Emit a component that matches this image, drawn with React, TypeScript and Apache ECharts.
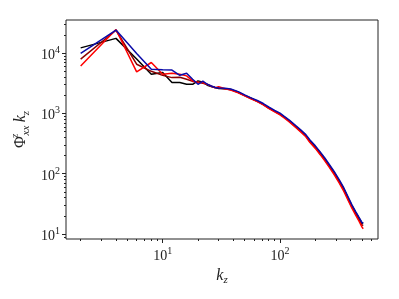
import React, { useEffect, useRef } from "react";
import * as echarts from "echarts";

// wavenumbers k_z
const K = [2, 4, 6, 8, 10, 12, 14, 16, 18, 20, 22, 24, 26, 28, 30, 34, 38, 44, 50, 56, 64, 72, 80, 90, 100, 110, 120, 136, 150, 166, 180, 200, 220, 240, 264, 290, 320, 350, 380, 410, 440, 470, 500, 512];

const blackSeries = [12250, 17600, 8000, 4470, 4770, 3250, 3250, 3040, 3040, 3470, 3300, 2940, 2800, 2690, 2600, 2580, 2500, 2250, 1990, 1800, 1600, 1420, 1240, 1090, 975, 860, 755, 610, 520, 430, 348, 280, 222, 178, 136, 104, 76, 56, 40, 29.5, 23, 18.5, 15.2, 15.0];
const darkRedSeries = [7940, 24000, 6560, 5000, 4280, 3930, 3990, 3690, 3400, 3300, 3160, 3040, 2800, 2690, 2640, 2570, 2480, 2240, 1980, 1790, 1590, 1410, 1230, 1080, 965, 850, 745, 600, 510, 422, 340, 273, 215, 172, 131, 100, 73, 53.5, 38, 28, 22, 17.5, 14.2, 13.8];
const redSeries = [6140, 24700, 4880, 7000, 4470, 4640, 4470, 4200, 3470, 3250, 3250, 3040, 2840, 2670, 2770, 2560, 2450, 2200, 1960, 1760, 1570, 1390, 1210, 1060, 950, 830, 725, 585, 495, 410, 330, 263, 207, 165, 126, 96, 70, 51, 36.5, 26.8, 20.8, 16.5, 13.0, 12.2];
const blueSeries = [9890, 24200, 9900, 5400, 5300, 5250, 4300, 4650, 3700, 3050, 3450, 3050, 2850, 2700, 2650, 2620, 2540, 2300, 2030, 1830, 1640, 1460, 1280, 1120, 1010, 880, 775, 630, 535, 445, 362, 290, 230, 184, 141, 108, 79, 58, 41.5, 30.5, 23.8, 19.0, 15.5, 15.2];

// axis limits and tick values (data units)
const X_MIN = 1.5;
const X_MAX = 684;
const Y_MIN = 8.26;
const Y_MAX = 35500;
const xMajorTicks = [10, 100];
const xMinorTicks = [2, 3, 4, 5, 6, 7, 8, 9, 20, 30, 40, 50, 60, 70, 80, 90, 200, 300, 400, 500, 600];
const yMajorTicks = [10, 100, 1000, 10000];
const yMinorTicks = [9, 20, 30, 40, 50, 60, 70, 80, 90, 200, 300, 400, 500, 600, 700, 800, 900, 2000, 3000, 4000, 5000, 6000, 7000, 8000, 9000, 20000, 30000];

const FONT = "Liberation Serif";
const lg = (v: number) => Math.log10(v);

const powLabel = (v: number) => `{b|10}{s|${Math.round(v)}}`;
const labelRich = {
  b: { fontFamily: FONT, fontSize: 14, color: "#222", verticalAlign: "bottom" },
  s: { fontFamily: FONT, fontSize: 10, color: "#222", verticalAlign: "bottom", padding: [0, 0, 7, 0] },
};

export default function App() {
  const ref = useRef<HTMLDivElement>(null);
  useEffect(() => {
    if (!ref.current) return;
    const chart = echarts.init(ref.current, null, { renderer: "svg" });
    const mk = (name: string, vals: number[], color: string) => ({
      name,
      type: "line",
      xAxisIndex: 0,
      yAxisIndex: 0,
      showSymbol: false,
      symbol: "none",
      lineStyle: { color, width: 1.5 },
      data: K.map((k, i) => [lg(k), lg(vals[i])]),
    });
    const baseX = {
      type: "value",
      min: lg(X_MIN),
      max: lg(X_MAX),
      position: "bottom",
      axisLine: { show: false },
      splitLine: { show: false },
    };
    const baseY = {
      type: "value",
      min: lg(Y_MIN),
      max: lg(Y_MAX),
      position: "left",
      axisLine: { show: false },
      splitLine: { show: false },
    };
    chart.setOption({
      animation: false,
      grid: {
        left: 66,
        top: 20,
        width: 312,
        height: 219,
        show: true,
        borderColor: "#222",
        borderWidth: 1,
        containLabel: false,
        outerBoundsMode: "none",
      },
      xAxis: [
        {
          ...baseX,
          name: "{k|k}{sub|z}",
          nameLocation: "middle",
          nameGap: 21,
          nameTextStyle: {
            rich: {
              k: { fontFamily: FONT, fontStyle: "italic", fontSize: 16, color: "#222", verticalAlign: "top" },
              sub: { fontFamily: FONT, fontStyle: "italic", fontSize: 11, color: "#222", verticalAlign: "top", padding: [7, 0, 0, 0] },
            },
          },
          axisTick: { show: true, inside: false, length: 4, customValues: xMajorTicks.map(lg), lineStyle: { color: "#222" } },
          axisLabel: { show: true, margin: 6, customValues: xMajorTicks.map(lg), formatter: powLabel, rich: labelRich },
        },
        {
          ...baseX,
          axisTick: { show: true, inside: false, length: 2, customValues: xMinorTicks.map(lg), lineStyle: { color: "#222" } },
          axisLabel: { show: false },
        },
      ],
      yAxis: [
        {
          ...baseY,
          name: "{phi|Φ}{sup|z}{sub|xx} {k|k}{sub|z}",
          nameLocation: "middle",
          nameGap: 36,
          nameTextStyle: {
            rich: {
              phi: { fontFamily: FONT, fontSize: 16, color: "#222", verticalAlign: "top", padding: [3, 0, 0, 0] },
              sup: { fontFamily: FONT, fontStyle: "italic", fontSize: 11, color: "#222", verticalAlign: "top", width: 1, padding: [0, 0, 0, 0] },
              sub: { fontFamily: FONT, fontStyle: "italic", fontSize: 11, color: "#222", verticalAlign: "top", padding: [11, 0, 0, 0] },
              k: { fontFamily: FONT, fontStyle: "italic", fontSize: 16, color: "#222", verticalAlign: "top", padding: [3, 0, 0, 0] },
            },
          },
          axisTick: { show: true, inside: false, length: 4, customValues: yMajorTicks.map(lg), lineStyle: { color: "#222" } },
          axisLabel: { show: true, margin: 6, customValues: yMajorTicks.map(lg), formatter: powLabel, rich: labelRich },
        },
        {
          ...baseY,
          axisTick: { show: true, inside: false, length: 2, customValues: yMinorTicks.map(lg), lineStyle: { color: "#222" } },
          axisLabel: { show: false },
        },
      ],
      series: [
        mk("black", blackSeries, "#000000"),
        mk("darkred", darkRedSeries, "#8b0000"),
        mk("red", redSeries, "#ff0000"),
        mk("blue", blueSeries, "#0a0aa8"),
      ],
    });
    return () => chart.dispose();
  }, []);
  return <div ref={ref} style={{ position: "fixed", left: 0, top: 0, width: 399, height: 299 }} />;
}
